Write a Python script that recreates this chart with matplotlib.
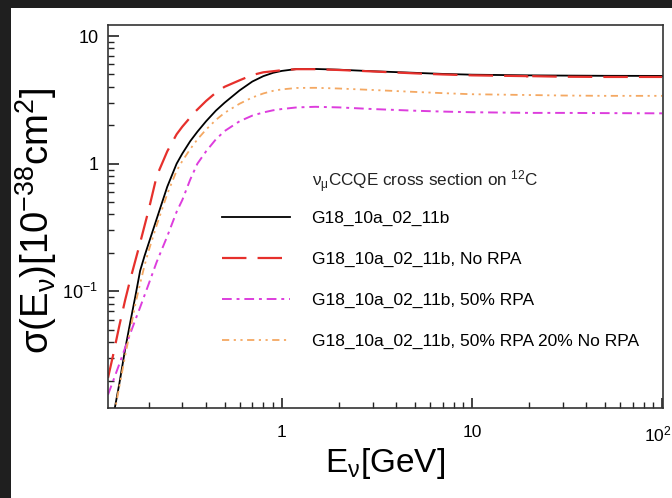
import matplotlib
matplotlib.use("Agg")
import matplotlib.pyplot as plt
import matplotlib.transforms as mtransforms
import numpy as np
from matplotlib.ticker import LogLocator, FixedLocator, FixedFormatter, NullFormatter
from matplotlib.patches import Rectangle

plt.rcParams['font.family'] = ['Liberation Sans', 'DejaVu Sans']
plt.rcParams['mathtext.default'] = 'regular'

# nominal G18_10a_02_11b  (energy [GeV], sigma [1e-38 cm^2])
e_nominal = [0.122, 0.13, 0.14, 0.15, 0.16, 0.17, 0.18, 0.19, 0.2, 0.22, 0.25, 0.28, 0.3, 0.33,
             0.36, 0.4, 0.45, 0.5, 0.6, 0.7, 0.8, 0.9, 1.0, 1.2, 1.5, 2, 3, 5, 7, 10, 20, 30, 50, 100]
xsec_nominal = [0.0065, 0.0105, 0.019, 0.035, 0.058, 0.092, 0.145, 0.19, 0.24, 0.37, 0.66, 1.0, 1.2, 1.5,
                1.78, 2.15, 2.6, 3.0, 3.75, 4.4, 4.85, 5.15, 5.33, 5.52, 5.52, 5.45, 5.3, 5.15, 5.05,
                4.98, 4.92, 4.9, 4.88, 4.87]

# no RPA
e_norpa = [0.122, 0.13, 0.14, 0.15, 0.16, 0.18, 0.2, 0.22, 0.25, 0.28, 0.3, 0.35, 0.4, 0.45, 0.5,
           0.6, 0.7, 0.8, 0.9, 1.0, 1.2, 1.5, 2, 3, 5, 7, 10, 19.5, 20, 20.5, 30, 50, 100]
xsec_norpa = [0.021, 0.032, 0.054, 0.085, 0.125, 0.24, 0.44, 0.8, 1.25, 1.7, 1.95, 2.55, 3.1, 3.6, 4.0,
              4.5, 4.95, 5.2, 5.3, 5.4, 5.5, 5.5, 5.42, 5.28, 5.1, 5.0, 4.92, 4.85, 4.4, 4.85,
              4.8, 4.78, 4.78]

# 50% RPA
e_50rpa = [0.122, 0.13, 0.14, 0.15, 0.16, 0.17, 0.18, 0.2, 0.22, 0.25, 0.28, 0.3, 0.33, 0.36, 0.4,
           0.45, 0.5, 0.6, 0.7, 0.8, 0.9, 1.0, 1.2, 1.5, 2, 3, 5, 7, 10, 20, 30, 50, 100]
xsec_50rpa = [0.0155, 0.02, 0.027, 0.036, 0.047, 0.06, 0.075, 0.115, 0.17, 0.27, 0.42, 0.52, 0.75, 1.0,
              1.25, 1.55, 1.8, 2.15, 2.38, 2.52, 2.62, 2.68, 2.76, 2.79, 2.76, 2.68, 2.6, 2.56,
              2.53, 2.5, 2.5, 2.49, 2.48]

# 50% RPA + 20% no RPA
e_mix = [0.122, 0.13, 0.14, 0.15, 0.16, 0.17, 0.18, 0.19, 0.2, 0.22, 0.25, 0.28, 0.3, 0.33, 0.36,
         0.4, 0.45, 0.5, 0.6, 0.7, 0.8, 0.9, 1.0, 1.2, 1.5, 2, 3, 5, 7, 10, 20, 30, 50, 100]
xsec_mix = [0.006, 0.01, 0.018, 0.031, 0.05, 0.08, 0.115, 0.16, 0.21, 0.33, 0.58, 0.88, 1.05, 1.3,
            1.55, 1.85, 2.2, 2.5, 2.95, 3.3, 3.55, 3.72, 3.82, 3.92, 3.93, 3.88, 3.78, 3.65, 3.57,
            3.5, 3.45, 3.42, 3.4, 3.4]

labels = ["G18_10a_02_11b",
          "G18_10a_02_11b, No RPA",
          "G18_10a_02_11b, 50% RPA",
          "G18_10a_02_11b, 50% RPA 20% No RPA"]

fig = plt.figure(figsize=(6.72, 4.98), dpi=100, facecolor='#1f1f1f')
# white canvas inside the dark border
fig.patches.append(Rectangle((11/672, 0), 1 - 11/672, 1 - 8/498, transform=fig.transFigure,
                             facecolor='white', edgecolor='none', zorder=-10))

ax = fig.add_axes([108/672, 1 - 408/498, 555/672, 383/498])
ax.set_facecolor('white')
ax.set_xscale('log')
ax.set_yscale('log')
ax.set_xlim(0.122, 101)
ax.set_ylim(0.0122, 12.2)

l1, = ax.plot(e_nominal, xsec_nominal, color='black', lw=1.3, label=labels[0])
l2, = ax.plot(e_norpa, xsec_norpa, color='#e6302c', lw=1.6, dashes=(11, 5), label=labels[1])
l3, = ax.plot(e_50rpa, xsec_50rpa, color='#dd3ddd', lw=1.4, dashes=(5, 2.5, 1.5, 2.5), label=labels[2])
l4, = ax.plot(e_mix, xsec_mix, color='#f4a862', lw=1.3,
              dashes=(4, 2.5, 1.2, 2.5, 1.2, 2.5), label=labels[3])

for s in ax.spines.values():
    s.set_linewidth(1.2)
    s.set_color('#333333')

ax.xaxis.set_major_locator(FixedLocator([1, 10, 100]))
ax.xaxis.set_major_formatter(FixedFormatter(['1', '10', r'$10^{2}$']))
ax.xaxis.set_minor_locator(LogLocator(base=10, subs=np.arange(2, 10)))
ax.xaxis.set_minor_formatter(NullFormatter())
ax.yaxis.set_major_locator(FixedLocator([0.1, 1, 10]))
ax.yaxis.set_major_formatter(FixedFormatter([r'$10^{-1}$', '1', '10']))
ax.yaxis.set_minor_locator(LogLocator(base=10, subs=np.arange(2, 10)))
ax.yaxis.set_minor_formatter(NullFormatter())

ax.tick_params(which='both', direction='in', top=False, right=False, color='#222222')
ax.tick_params(axis='y', which='major', length=8, width=1.2, labelsize=13, pad=7)
ax.tick_params(axis='y', which='minor', length=4.5, width=1.0)
ax.tick_params(axis='x', which='major', length=7, width=1.2, labelsize=12.5, pad=12)
ax.tick_params(axis='x', which='minor', length=4, width=1.0)

ax.set_xlabel(r'E$_{ν}$[GeV]', fontsize=24)
ax.xaxis.set_label_coords(0.5, -0.1)
ax.set_ylabel(r'σ(E$_{ν}$)[10$^{-38}$cm$^{2}$]', fontsize=27.5)
ax.yaxis.set_label_coords(-0.088, 0.49)

# keep the last x label inside the canvas
fig.canvas.draw()
last = ax.get_xticklabels()[-1]
last.set_transform(last.get_transform() + mtransforms.ScaledTranslation(-4/100, 0, fig.dpi_scale_trans))

ax.text(312/672, 1 - 182/498, r'ν$_{μ}$CCQE cross section on $^{12}$C', transform=fig.transFigure,
        fontsize=12.3, ha='left', va='center', color='#222222')
ax.legend(handles=[l1, l2, l3, l4], loc='upper left', bbox_to_anchor=(222/672, 1 - 211/498),
          bbox_transform=fig.transFigure, frameon=False, fontsize=12.5, handlelength=3.9,
          handletextpad=1.26, labelspacing=1.47, borderpad=0, borderaxespad=0)

fig.savefig("out.png", dpi=100, facecolor=fig.get_facecolor())
